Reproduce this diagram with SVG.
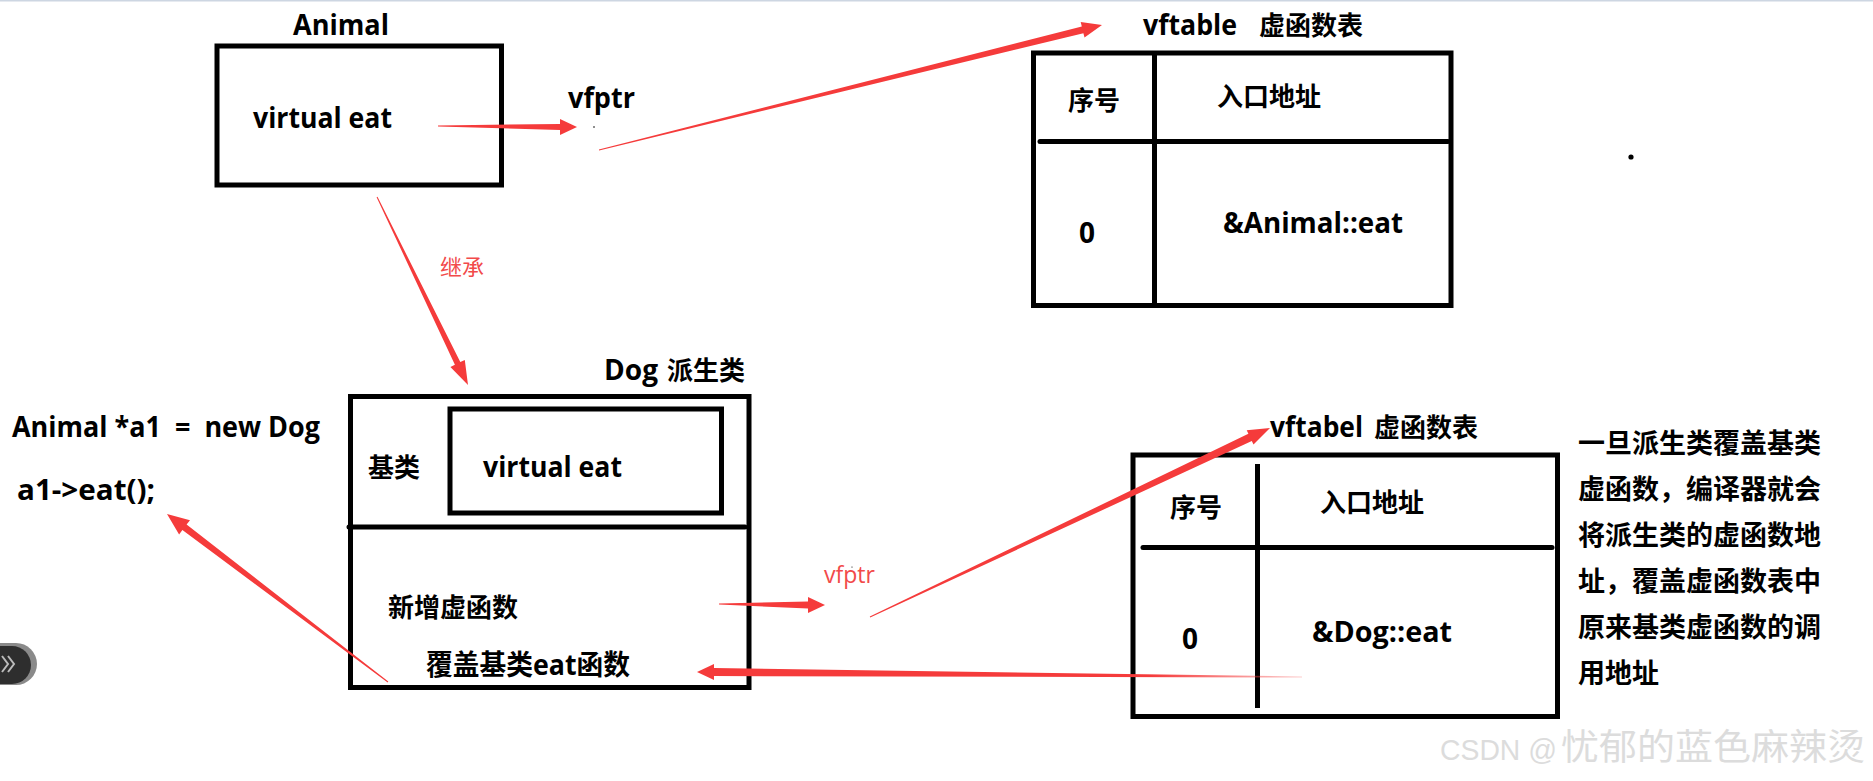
<svg xmlns="http://www.w3.org/2000/svg" width="1873" height="781" viewBox="0 0 1873 781">
<style>
.box{fill:none;stroke:#000;stroke-width:5}
.ln{stroke:#000;stroke-width:5;stroke-linecap:round;fill:none}
.t{font-family:"Open Sans","Noto Sans CJK SC",sans-serif;font-weight:bold;font-size:28px;fill:#000}
.c{font-family:"Noto Sans CJK SC",sans-serif;font-weight:bold;font-size:26px;fill:#000}
.r{font-family:"Open Sans","Noto Sans CJK SC",sans-serif;font-size:23px;fill:#f24a4a}
.rc{font-family:"Noto Sans CJK SC",sans-serif;font-size:22px;fill:#f24a4a}
.arr{fill:#f53b3b}
.wm{font-family:"Liberation Sans","Noto Sans CJK SC",sans-serif;font-weight:normal;fill:#dcdcdc}
</style>
<defs>
<linearGradient id="fade" x1="0" y1="0" x2="1" y2="0">
<stop offset="0" stop-color="#f53b3b"/>
<stop offset="0.75" stop-color="#f53b3b"/>
<stop offset="1" stop-color="#f53b3b" stop-opacity="0.25"/>
</linearGradient>
</defs>
<rect x="0" y="0" width="1873" height="781" fill="#fff"/>
<rect x="0" y="0" width="1873" height="1.5" fill="#cdd6e2"/>

<g id="animal">
<text class="t" x="293" y="35" textLength="96" lengthAdjust="spacingAndGlyphs">Animal</text>
<rect class="box" x="217" y="46" width="284.5" height="139"/>
<text class="t" x="253" y="128" textLength="139" lengthAdjust="spacingAndGlyphs">virtual eat</text>
</g>

<g id="vfptr1">
<text class="t" x="568" y="108" textLength="67" lengthAdjust="spacingAndGlyphs">vfptr</text>
<circle cx="594" cy="127" r="0.8" fill="#000"/>
</g>

<g id="vftable1">
<text class="t" x="1143" y="35" textLength="94" lengthAdjust="spacingAndGlyphs">vftable</text>
<text class="c" x="1259" y="35">虚函数表</text>
<rect class="box" x="1033.5" y="53" width="417.5" height="252.5"/>
<line class="ln" x1="1154.5" y1="53" x2="1154.5" y2="305" style="stroke-linecap:butt"/>
<line class="ln" x1="1040" y1="141.5" x2="1448" y2="141.5"/>
<text class="c" x="1068" y="110">序号</text>
<text class="c" x="1217" y="106">入口地址</text>
<text class="t" x="1079" y="243">0</text>
<text class="t" x="1223" y="233" textLength="180" lengthAdjust="spacingAndGlyphs">&amp;Animal::eat</text>
</g>

<g id="dog">
<text class="t" x="604" y="380" textLength="54" lengthAdjust="spacingAndGlyphs">Dog</text>
<text class="c" x="667" y="380">派生类</text>
<rect class="box" x="350.5" y="396.5" width="398.5" height="291"/>
<rect class="box" x="450" y="409" width="271.5" height="104"/>
<line class="ln" x1="349" y1="527" x2="745" y2="527"/>
<text class="c" x="368" y="477">基类</text>
<text class="t" x="483" y="477" textLength="139" lengthAdjust="spacingAndGlyphs">virtual eat</text>
<text class="c" x="388" y="617">新增虚函数</text>
<text class="t" x="426" y="675" textLength="204" lengthAdjust="spacingAndGlyphs">覆盖基类eat函数</text>
</g>

<g id="code">
<text class="t" x="12" y="437" xml:space="preserve" textLength="308" lengthAdjust="spacingAndGlyphs">Animal *a1  =  new Dog</text>
<text class="t" x="17" y="500" textLength="138" lengthAdjust="spacingAndGlyphs">a1-&gt;eat();</text>
</g>

<g id="vfptr2">
<text class="r" x="824" y="583" textLength="51" lengthAdjust="spacingAndGlyphs">vfptr</text>
<circle cx="852" cy="567" r="0.6" fill="#000"/>
</g>

<g id="vftable2">
<text class="t" x="1270" y="437" textLength="93" lengthAdjust="spacingAndGlyphs">vftabel</text>
<text class="c" x="1374" y="437">虚函数表</text>
<rect class="box" x="1133" y="455" width="424.5" height="261.5"/>
<line class="ln" x1="1257.5" y1="464" x2="1257.5" y2="708" style="stroke-linecap:butt"/>
<line class="ln" x1="1143" y1="547.5" x2="1552" y2="547.5"/>
<text class="c" x="1170" y="517">序号</text>
<text class="c" x="1320" y="512">入口地址</text>
<text class="t" x="1182" y="649">0</text>
<text class="t" x="1312" y="642" textLength="140" lengthAdjust="spacingAndGlyphs">&amp;Dog::eat</text>
</g>

<g id="note">
<text class="c" x="1578" y="453" style="font-size:27px">一旦派生类覆盖基类</text>
<text class="c" x="1578" y="499" style="font-size:27px">虚函数，编译器就会</text>
<text class="c" x="1578" y="545" style="font-size:27px">将派生类的虚函数地</text>
<text class="c" x="1578" y="591" style="font-size:27px">址，覆盖虚函数表中</text>
<text class="c" x="1578" y="637" style="font-size:27px">原来基类虚函数的调</text>
<text class="c" x="1578" y="683" style="font-size:27px">用地址</text>
</g>

<g id="inherit-label">
<text class="rc" x="440" y="275">继承</text>
</g>

<g id="connectors">
<polygon class="arr" points="438,126.5 560,129.9 560,134.9 577,127 560,118.9 560,123.9 438,125.5"/>
<polygon class="arr" points="599.1,150.5 1083.4,33.2 1084.5,37.6 1102,25 1080.7,22.1 1081.8,26.4 598.9,149.5"/>
<polygon class="arr" points="376.6,197.2 454.9,364.7 450.4,366.9 468,385 464.8,359.9 460.3,362.1 377.5,196.8"/>
<polygon class="arr" points="719,603.5 808,601.5 808,597 825,605 808,613 808,608.5 719,604.5"/>
<polygon class="arr" points="870.2,617.5 1251.8,441.0 1253.5,444.6 1270,428 1246.7,430.2 1248.4,433.8 869.8,616.5"/>
<polygon fill="url(#fade)" points="1302,676.5 714,668.1 714,664.1 697,672 714,680.1 714,676.1 1302,677.5"/>
<polygon class="arr" points="388.3,681.6 186.6,524.5 190.0,520.2 167,514 179.1,534.5 182.4,530.1 387.7,682.4"/>
</g>

<g id="misc">
<circle cx="1631" cy="157" r="2.6" fill="#000"/>
<path d="M-25,643 H16 A21,21 0 0 1 16,685 H-25 Z" fill="#8a8a8a"/>
<path d="M-25,646 H12 A19,19 0 0 1 12,684 H-25 Z" fill="#2e2e2e"/>
<polyline points="2,656 8,664 2,672" fill="none" stroke="#bbb" stroke-width="2"/>
<polyline points="8,656 14,664 8,672" fill="none" stroke="#bbb" stroke-width="2"/>
</g>

<g id="watermark">
<text class="wm" x="1440" y="760" font-size="29" textLength="117" lengthAdjust="spacingAndGlyphs">CSDN @</text>
<text class="wm" x="1561" y="760" font-size="36" textLength="304" lengthAdjust="spacingAndGlyphs">忧郁的蓝色麻辣烫</text>
</g>
</svg>
